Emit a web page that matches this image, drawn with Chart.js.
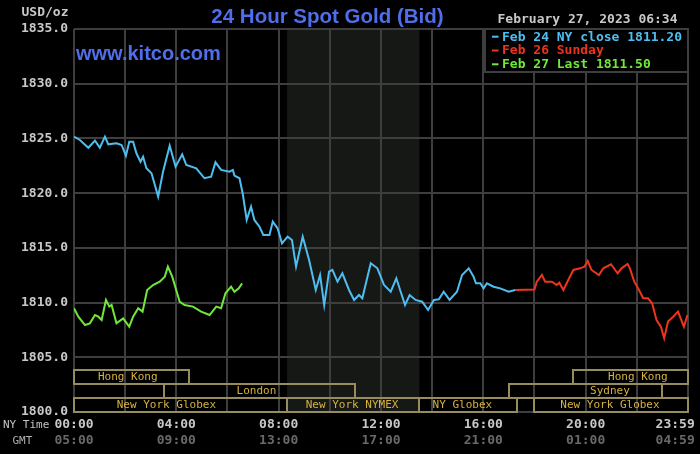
<!DOCTYPE html>
<html>
<head>
<meta charset="utf-8">
<script src="https://cdn.jsdelivr.net/npm/chart.js@4.4.0/dist/chart.umd.min.js"></script>
<style>
  html, body { margin: 0; padding: 0; background: #000; }
  #wrap { width: 700px; height: 454px; }
</style>
</head>
<body>
<div id="wrap"><canvas id="c" width="700" height="454"></canvas></div>
<script>
// ---------- DATA ----------
const chartTitle = '24 Hour Spot Gold (Bid)';
const siteText = 'www.kitco.com';
const unitText = 'USD/oz';
const stampText = 'February 27, 2023 06:34';

const seriesLabels = ['Feb 24 NY close 1811.20', 'Feb 26 Sunday', 'Feb 27 Last 1811.50'];

// hours after 00:00 NY time
const feb24Hours = [0.00,0.23,0.56,0.82,1.01,1.21,1.34,1.66,1.86,2.03,2.16,2.31,2.44,2.60,2.70,2.83,3.03,3.29,3.48,3.74,3.97,4.23,4.39,4.78,5.10,5.36,5.53,5.75,6.08,6.21,6.27,6.47,6.60,6.75,6.92,7.05,7.25,7.40,7.64,7.77,7.96,8.13,8.35,8.52,8.68,8.94,9.19,9.45,9.62,9.78,9.97,10.10,10.30,10.49,10.75,10.95,11.14,11.27,11.60,11.86,12.12,12.38,12.60,12.77,12.94,13.12,13.35,13.61,13.84,14.07,14.26,14.45,14.68,14.97,15.17,15.43,15.62,15.71,15.88,16.01,16.14,16.40,16.66,16.99,17.25];
const feb24Values = [1825.16,1824.86,1824.15,1824.80,1824.15,1825.16,1824.46,1824.55,1824.40,1823.42,1824.70,1824.70,1823.64,1822.87,1823.33,1822.27,1821.81,1819.68,1821.96,1824.34,1822.42,1823.55,1822.57,1822.27,1821.36,1821.50,1822.82,1822.12,1821.96,1822.12,1821.60,1821.36,1819.90,1817.55,1818.76,1817.55,1816.93,1816.18,1816.18,1817.40,1816.78,1815.41,1816.02,1815.72,1813.28,1816.02,1813.89,1811.15,1812.52,1809.78,1812.82,1812.98,1811.91,1812.67,1811.15,1810.24,1810.69,1810.39,1813.59,1813.13,1811.60,1810.99,1812.22,1810.99,1809.78,1810.69,1810.24,1810.08,1809.32,1810.24,1810.30,1810.99,1810.24,1810.99,1812.52,1813.13,1812.37,1811.76,1811.76,1811.30,1811.76,1811.45,1811.30,1810.99,1811.15];

const feb26Hours = [17.25,18.00,18.09,18.29,18.42,18.68,18.87,18.97,19.13,19.32,19.52,19.78,19.95,20.08,20.23,20.52,20.69,20.99,21.25,21.40,21.64,21.73,21.90,22.05,22.25,22.44,22.60,22.77,22.94,23.07,23.22,23.42,23.61,23.84,23.98];
const feb26Values = [1811.15,1811.20,1811.91,1812.52,1811.91,1811.91,1811.60,1811.82,1811.15,1812.06,1812.98,1813.13,1813.28,1813.80,1812.98,1812.52,1813.13,1813.50,1812.67,1813.13,1813.52,1813.13,1811.91,1811.30,1810.39,1810.39,1809.93,1808.41,1807.80,1806.74,1808.26,1808.71,1809.17,1807.80,1808.86];

const feb27Hours = [0.00,0.17,0.43,0.62,0.82,0.95,1.08,1.25,1.38,1.47,1.66,1.92,2.16,2.31,2.51,2.68,2.86,3.09,3.35,3.55,3.67,3.84,4.13,4.32,4.65,4.97,5.30,5.56,5.75,5.92,6.14,6.27,6.44,6.57];
const feb27Values = [1809.48,1808.71,1807.95,1808.10,1808.86,1808.71,1808.41,1810.24,1809.63,1809.78,1808.10,1808.56,1807.80,1808.71,1809.48,1809.17,1811.15,1811.60,1811.91,1812.37,1813.28,1812.37,1810.08,1809.78,1809.63,1809.17,1808.86,1809.63,1809.48,1810.85,1811.45,1810.99,1811.30,1811.75];

// axes
const yMin = 1800, yMax = 1835, yStep = 5;
const gridHours = [0,2,4,6,8,10,12,14,16,18,20,22,24];
const labelHours = [0,4,8,12,16,20,23.5];
const nyTimeLabels = ['00:00','04:00','08:00','12:00','16:00','20:00','23:59'];
const gmtLabels = ['05:00','09:00','13:00','17:00','21:00','01:00','04:59'];

// trading sessions (row 0 = bottom row)
const sessionNames  = ['Hong Kong','London','New York Globex','New York NYMEX','NY Globex','Sydney','Hong Kong','New York Globex'];
const sessionStarts = [0, 3.5, 0, 8.33, 13.5, 17.0, 19.5, 18.0];
const sessionEnds   = [4.5, 11.0, 8.33, 13.5, 17.33, 23.0, 24, 24];
const sessionRows   = [2, 1, 0, 0, 0, 1, 2, 0];
const sessionTextAt = [2.10, 7.13, 3.61, 10.87, 15.18, 20.95, 22.04, 20.95];
const pitSessionIndex = 3;

// ---------- STYLE ----------
const BLUE = 'rgb(78,190,240)';
const RED = 'rgb(236,52,30)';
const GREEN = 'rgb(112,232,58)';
const GRID = 'rgb(62,62,62)';
const MONO = '"DejaVu Sans Mono", monospace';

const toPts = (hs, vs) => hs.map((h, i) => ({ x: h, y: vs[i] }));

const decor = {
  id: 'decor',
  beforeDraw(chart) {
    const { ctx, chartArea: a, scales } = chart;
    const x = scales.x;
    ctx.save();
    ctx.fillStyle = '#000';
    ctx.fillRect(0, 0, chart.width, chart.height);
    const x0 = x.getPixelForValue(sessionStarts[pitSessionIndex]);
    const x1 = x.getPixelForValue(sessionEnds[pitSessionIndex]);
    ctx.fillStyle = 'rgb(21,24,21)';
    ctx.fillRect(x0, a.top, x1 - x0, a.bottom - a.top);
    ctx.restore();
  },
  beforeDatasetsDraw(chart) {
    const { ctx, chartArea: a, scales } = chart;
    const x = scales.x;
    const rowH = 14;
    ctx.save();
    ctx.lineWidth = 2;
    ctx.strokeStyle = 'rgb(150,140,92)';
    ctx.font = '11px ' + MONO;
    ctx.textAlign = 'center';
    ctx.textBaseline = 'middle';
    sessionNames.forEach((n, i) => {
      const l = Math.round(x.getPixelForValue(sessionStarts[i]));
      const r = Math.round(x.getPixelForValue(sessionEnds[i]));
      const b = a.bottom - sessionRows[i] * rowH;
      const t = b - rowH;
      ctx.strokeRect(l, t, r - l, rowH);
      ctx.fillStyle = 'rgb(214,178,62)';
      ctx.fillText(n, x.getPixelForValue(sessionTextAt[i]), t + rowH / 2 + 0.5);
    });
    ctx.restore();
  },
  afterDraw(chart) {
    const { ctx, chartArea: a } = chart;
    ctx.save();
    // title
    ctx.fillStyle = 'rgb(80,110,234)';
    ctx.font = 'bold 20.5px "Liberation Sans", Arial, sans-serif';
    ctx.textAlign = 'center';
    ctx.textBaseline = 'alphabetic';
    ctx.fillText(chartTitle, 327.5, 22.7);
    ctx.textAlign = 'left';
    ctx.font = 'bold 20px "Liberation Sans", Arial, sans-serif';
    ctx.fillText(siteText, a.left + 2, 59.5);
    // unit & time stamp
    ctx.fillStyle = 'rgb(200,200,200)';
    ctx.font = 'bold 13px ' + MONO;
    ctx.textBaseline = 'middle';
    ctx.textAlign = 'right';
    ctx.fillText(unitText, 68.5, 13);
    ctx.textAlign = 'left';
    ctx.fillText(stampText, 497.5, 20);
    // axis row titles
    ctx.font = '11px ' + MONO;
    ctx.fillStyle = 'rgb(195,195,195)';
    ctx.fillText('NY Time', 3, 425);
    ctx.fillStyle = 'rgb(175,175,175)';
    ctx.fillText('GMT', 12.5, 441);
    // legend box
    const lx = 485, ly = a.top, lw = a.right - 485, lh = 43;
    ctx.fillStyle = '#000';
    ctx.fillRect(lx, ly, lw, lh);
    ctx.strokeStyle = GRID;
    ctx.lineWidth = 2;
    ctx.strokeRect(lx, ly, lw, lh);
    ctx.font = 'bold 13px ' + MONO;
    chart.data.datasets.forEach((ds, i) => {
      const cy = ly + 7.7 + i * 13.8;
      ctx.fillStyle = ds.borderColor;
      ctx.fillRect(492, cy - 1, 6.5, 2);
      ctx.fillText(ds.label, 502, cy + 0.5);
    });
    ctx.restore();
  }
};

const hiddenLabelAxis = (labels, weight, color, h) => ({
  type: 'linear', position: 'bottom', min: 0, max: 24, weight: weight,
  grid: { display: false, drawTicks: false },
  border: { display: false },
  ticks: {
    autoSkip: false, maxRotation: 0, padding: 5, color: color,
    font: { family: 'DejaVu Sans Mono', size: 13, weight: 'bold' },
    callback: (v, i) => labels[i]
  },
  afterBuildTicks: s => { s.ticks = labelHours.map(v => ({ value: v })); },
  afterFit: s => { s.height = h; }
});

new Chart(document.getElementById('c'), {
  type: 'line',
  data: {
    datasets: [
      { label: seriesLabels[0], data: toPts(feb24Hours, feb24Values), borderColor: BLUE },
      { label: seriesLabels[1], data: toPts(feb26Hours, feb26Values), borderColor: RED },
      { label: seriesLabels[2], data: toPts(feb27Hours, feb27Values), borderColor: GREEN }
    ].map(d => Object.assign(d, { borderWidth: 2, pointRadius: 0, tension: 0, fill: false, xAxisID: 'x', yAxisID: 'y' }))
  },
  options: {
    responsive: false,
    animation: false,
    devicePixelRatio: 1,
    layout: { padding: { top: 29, right: 10, bottom: 0, left: 0 } },
    plugins: { legend: { display: false }, tooltip: { enabled: false } },
    scales: {
      x: {
        type: 'linear', position: 'bottom', min: 0, max: 24, weight: 0,
        grid: { color: GRID, lineWidth: 2, drawTicks: false },
        border: { display: false },
        ticks: { display: false },
        afterBuildTicks: s => { s.ticks = gridHours.map(v => ({ value: v })); },
        afterFit: s => { s.height = 0; }
      },
      xNY: hiddenLabelAxis(nyTimeLabels, 1, 'rgb(200,200,200)', 16),
      xGMT: hiddenLabelAxis(gmtLabels, 2, 'rgb(105,105,105)', 26),
      y: {
        type: 'linear', position: 'left', min: yMin, max: yMax,
        grid: { color: GRID, lineWidth: 2, drawTicks: false },
        border: { display: false },
        ticks: {
          stepSize: yStep, padding: 6, color: 'rgb(200,200,200)',
          font: { family: 'DejaVu Sans Mono', size: 13, weight: 'bold' },
          callback: v => Number(v).toFixed(1)
        },
        afterFit: s => { s.width = 74; }
      }
    }
  },
  plugins: [decor]
});
</script>
</body>
</html>
